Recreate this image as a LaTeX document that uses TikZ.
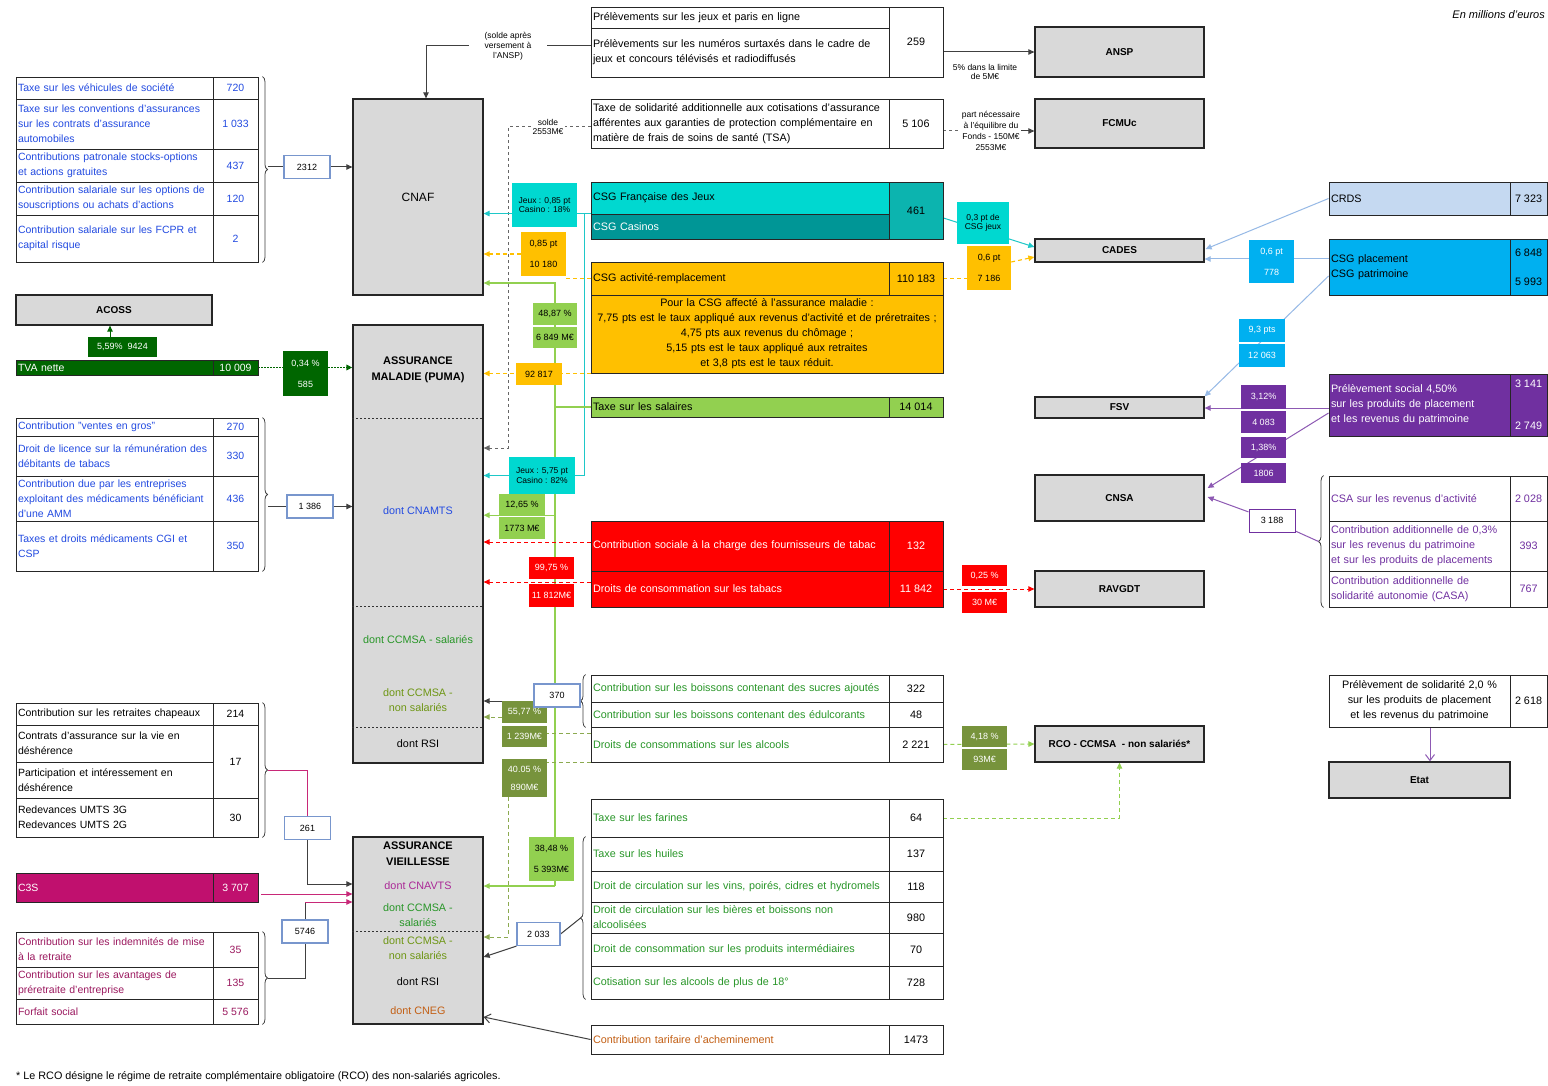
\documentclass[tikz,border=0pt]{standalone}
\usepackage{fontspec}
\setmainfont{Liberation Sans}
\usetikzlibrary{arrows.meta,decorations.pathreplacing,calc}
\pgfdeclarelayer{bg}
\pgfsetlayers{bg,main}
\newcommand\tblfont{\fontsize{10.8}{15}\selectfont}
\newcommand\lftfont{\fontsize{10.5}{15}\selectfont}
\newcommand\labfont{\fontsize{9}{10}\selectfont}
\newcommand\notefont{\fontsize{8.5}{9.8}\selectfont}
\definecolor{gbox}{HTML}{D9D9D9}
\definecolor{tblue}{RGB}{35,75,225}
\definecolor{tgreen}{RGB}{40,150,40}
\definecolor{tolive}{RGB}{110,150,20}
\definecolor{tpurp}{RGB}{112,48,160}
\definecolor{tmag}{RGB}{155,25,95}
\definecolor{tbrown}{RGB}{195,95,20}
\definecolor{tcnav}{RGB}{170,40,150}
\definecolor{cyA}{RGB}{0,216,208}
\definecolor{tealA}{RGB}{0,150,150}
\definecolor{tealB}{RGB}{12,180,175}
\definecolor{orng}{HTML}{FFC000}
\definecolor{lgr}{HTML}{92D050}
\definecolor{dgr}{RGB}{0,102,0}
\definecolor{olv}{HTML}{77933C}
\definecolor{rd}{RGB}{255,0,0}
\definecolor{crdsc}{HTML}{C5D9F1}
\definecolor{csgc}{HTML}{00B0F0}
\definecolor{purp}{HTML}{7030A0}
\definecolor{c3sc}{RGB}{192,16,110}
\definecolor{lnb}{RGB}{150,185,230}
\definecolor{ibc}{RGB}{120,150,205}
\definecolor{cyl}{RGB}{30,200,200}
\definecolor{magl}{RGB}{200,40,120}
\definecolor{olvl}{RGB}{140,170,80}
\begin{document}
\begin{tikzpicture}[x=1pt,y=-1pt,
 tbl/.style={draw=black!85, line width=0.9pt, inner xsep=2pt, inner ysep=0pt, font=\tblfont},
 colL/.style={tbl, font=\lftfont, text width=193pt, minimum width=197pt, align=left},
 colLN/.style={tbl, font=\lftfont, minimum width=45pt, align=center},
 colC/.style={tbl, text width=294pt, minimum width=298pt, align=left},
 colCN/.style={tbl, minimum width=54pt, align=center},
 colR/.style={tbl, text width=177pt, minimum width=181pt, align=left},
 colRN/.style={tbl, minimum width=37pt, align=center},
 gbx/.style={draw=black!85, line width=1.3pt, fill=gbox, align=center, font=\bfseries\fontsize{10}{12}\selectfont, inner sep=0pt},
 lab/.style={inner sep=0pt, align=center, font=\labfont},
 ib/.style={draw=ibc, line width=1.2pt, fill=white, minimum width=46pt, minimum height=23pt, inner sep=0pt, font=\labfont},
 note/.style={inner sep=1pt, align=center, font=\notefont},
 intxt/.style={inner sep=0pt, align=center, font=\tblfont},
 sepl/.style={line width=1pt, dash pattern=on 2pt off 2pt, draw=black!80},
 ar/.style={-{Triangle[length=6pt,width=5.5pt]}},
 brc/.style={draw=black!75, line width=0.8pt, decorate, decoration={brace, amplitude=5pt}},
 lnCy/.style={draw=cyl, line width=1pt},
 lnOd/.style={draw=orng, line width=1.1pt, dash pattern=on 4pt off 3pt},
 lnGl/.style={draw=lgr, line width=1.1pt},
 lnRd/.style={draw=rd, line width=1pt, dash pattern=on 4pt off 3pt},
 lnOl/.style={draw=olvl, line width=1pt, dash pattern=on 4pt off 3pt},
 lnLg/.style={draw=lgr, line width=1pt, dash pattern=on 4pt off 3pt},
 lnGd/.style={draw=black!60, line width=1pt, dash pattern=on 3pt off 3pt},
 lnDk/.style={draw=black!75, line width=1pt},
 lnLb/.style={draw=lnb, line width=1pt},
 lnPl/.style={draw=purp!80, line width=1pt},
 lnMg/.style={draw=magl, line width=1pt},
 lnTva/.style={draw=dgr, line width=1.5pt, dash pattern=on 1.5pt off 1.5pt},
]
\path[use as bounding box] (0,0) rectangle (1548,1086);

% ---------- left table 1
\node[colL,text=tblue,minimum height=22] (t1a) at (114.5,88) {Taxe sur les véhicules de société};
\node[colLN,text=tblue,minimum height=22] (t1an) at (235.5,88) {720};
\node[colL,text=tblue,minimum height=50] (t1b) at (114.5,124) {Taxe sur les conventions d'assurances\\sur les contrats d'assurance\\automobiles};
\node[colLN,text=tblue,minimum height=50] (t1bn) at (235.5,124) {1 033};
\node[colL,text=tblue,minimum height=33] (t1c) at (114.5,165.5) {Contributions patronale stocks-options\\et actions gratuites};
\node[colLN,text=tblue,minimum height=33] (t1cn) at (235.5,165.5) {437};
\node[colL,text=tblue,minimum height=33] (t1d) at (114.5,198.5) {Contribution salariale sur les options de\\souscriptions ou achats d'actions};
\node[colLN,text=tblue,minimum height=33] (t1dn) at (235.5,198.5) {120};
\node[colL,text=tblue,minimum height=47] (t1e) at (114.5,238.5) {Contribution salariale sur les FCPR et\\capital risque};
\node[colLN,text=tblue,minimum height=47] (t1en) at (235.5,238.5) {2};

% ---------- ACOSS / TVA
\node[gbx,minimum width=196,minimum height=30] (acoss) at (114,310) {ACOSS};
\node[colL,fill=dgr,text=white,minimum height=15] (tva) at (114.5,367.5) {TVA nette};
\node[colLN,fill=dgr,text=white,minimum height=15] (tvan) at (235.5,367.5) {10 009};
\node[lab,fill=dgr,text=white,minimum width=69,minimum height=20] (b559) at (122.5,347) {5,59\%\ \ 9424};
\node[lab,fill=dgr,text=white,minimum width=45,minimum height=45] (b034) at (305.5,373.5) {0,34 \%\\[11pt]585};

% ---------- left table 2
\node[colL,text=tblue,minimum height=18] (t2a) at (114.5,427) {Contribution "ventes en gros"};
\node[colLN,text=tblue,minimum height=18] (t2an) at (235.5,427) {270};
\node[colL,text=tblue,minimum height=40] (t2b) at (114.5,456) {Droit de licence sur la rémunération des\\débitants de tabacs};
\node[colLN,text=tblue,minimum height=40] (t2bn) at (235.5,456) {330};
\node[colL,text=tblue,minimum height=45] (t2c) at (114.5,498.5) {Contribution due par les entreprises\\exploitant des médicaments bénéficiant\\d'une AMM};
\node[colLN,text=tblue,minimum height=45] (t2cn) at (235.5,498.5) {436};
\node[colL,text=tblue,minimum height=50] (t2d) at (114.5,546) {Taxes et droits médicaments CGI et\\CSP};
\node[colLN,text=tblue,minimum height=50] (t2dn) at (235.5,546) {350};

% ---------- left table 3
\node[colL,minimum height=22] (t3a) at (114.5,714) {Contribution sur les retraites chapeaux};
\node[colLN,minimum height=22] (t3an) at (235.5,714) {214};
\node[colL,minimum height=37] (t3b) at (114.5,743.5) {Contrats d'assurance sur la vie en\\déshérence};
\node[colL,minimum height=36] (t3c) at (114.5,780) {Participation et intéressement en\\déshérence};
\node[colLN,minimum height=73] (t3bn) at (235.5,761.5) {17};
\node[colL,minimum height=39] (t3d) at (114.5,817.5) {Redevances UMTS 3G\\Redevances UMTS 2G};
\node[colLN,minimum height=39] (t3dn) at (235.5,817.5) {30};

% ---------- C3S
\node[colL,fill=c3sc,text=white,minimum height=29] (c3s) at (114.5,887.5) {C3S};
\node[colLN,fill=c3sc,text=white,minimum height=29] (c3sn) at (235.5,887.5) {3 707};

% ---------- left table 4
\node[colL,text=tmag,minimum height=35] (t4a) at (114.5,949.5) {Contribution sur les indemnités de mise\\à la retraite};
\node[colLN,text=tmag,minimum height=35] (t4an) at (235.5,949.5) {35};
\node[colL,text=tmag,minimum height=32] (t4b) at (114.5,983) {Contribution sur les avantages de\\préretraite d'entreprise};
\node[colLN,text=tmag,minimum height=32] (t4bn) at (235.5,983) {135};
\node[colL,text=tmag,minimum height=25] (t4c) at (114.5,1011.5) {Forfait social};
\node[colLN,text=tmag,minimum height=25] (t4cn) at (235.5,1011.5) {5 576};

% ---------- CNAF / AM / AV
\node[gbx,font=\fontsize{12}{14}\selectfont,minimum width=130,minimum height=196] (cnaf) at (418,197) {CNAF};
\node[gbx,minimum width=130,minimum height=438] (am) at (418,544) {};
\node[gbx,minimum width=130,minimum height=187] (av) at (418,930.5) {};
\node[intxt,font=\bfseries\fontsize{11}{16}\selectfont] (amt) at (418,370) {ASSURANCE\\MALADIE (PUMA)};
\node[intxt,text=tblue] (am1) at (418,511) {dont CNAMTS};
\node[intxt,text=tgreen] (am2) at (418,640) {dont CCMSA - salariés};
\node[intxt,text=tolive] (am3) at (418,700) {dont CCMSA -\\non salariés};
\node[intxt] (am4) at (418,744) {dont RSI};
\draw[sepl] (am.west |- 0,418) -- (am.east |- 0,418);
\draw[sepl] (am.west |- 0,606) -- (am.east |- 0,606);
\draw[sepl] (am.west |- 0,727) -- (am.east |- 0,727);
\node[intxt,font=\bfseries\fontsize{11}{16}\selectfont] (avt) at (418,854) {ASSURANCE\\VIEILLESSE};
\node[intxt,text=tcnav] (av1) at (418,886) {dont CNAVTS};
\node[intxt,text=tgreen] (av2) at (418,915.5) {dont CCMSA -\\salariés};
\node[intxt,text=tolive] (av3) at (418,948.5) {dont CCMSA -\\non salariés};
\node[intxt] (av4) at (418,982) {dont RSI};
\node[intxt,text=tbrown] (av5) at (418,1011) {dont CNEG};
\draw[sepl] (av.west |- 0,931) -- (av.east |- 0,931);

% ---------- center tables
\node[colC,minimum height=21] (j1) at (740,17.5) {Prélèvements sur les jeux et paris en ligne};
\node[colC,minimum height=49] (j2) at (740,52.5) {Prélèvements sur les numéros surtaxés dans le cadre de\\jeux et concours télévisés et radiodiffusés};
\node[colCN,minimum height=70] (jn) at (916,42) {259};
\node[colC,minimum height=49] (tsa) at (740,123.5) {Taxe de solidarité additionnelle aux cotisations d'assurance\\afférentes aux garanties de protection complémentaire en\\matière de frais de soins de santé (TSA)};
\node[colCN,minimum height=49] (tsan) at (916,123.5) {5 106};
\node[colC,fill=cyA,minimum height=32] (csg1) at (740,198) {CSG Française des Jeux};
\node[colC,fill=tealA,text=white,minimum height=25] (csg2) at (740,226.5) {CSG Casinos};
\node[colCN,fill=tealB,minimum height=57] (csgn) at (916,210.5) {461};
\node[colC,fill=orng,minimum height=33] (act) at (740,278.5) {CSG activité-remplacement};
\node[colCN,fill=orng,minimum height=33] (actn) at (916,278.5) {110 183};
\node[tbl,fill=orng,minimum width=352,text width=348,align=center,minimum height=78] (actd) at (767,334) {Pour la CSG affecté à l'assurance maladie :\\7,75 pts est le taux appliqué aux revenus d'activité et de préretraites ;\\4,75 pts aux revenus du chômage ;\\5,15 pts est le taux appliqué aux retraites\\et 3,8 pts est le taux réduit.};
\node[colC,fill=lgr,minimum height=20] (sal) at (740,407) {Taxe sur les salaires};
\node[colCN,fill=lgr,minimum height=20] (saln) at (916,407) {14 014};
\node[colC,fill=rd,text=white,minimum height=50] (tab1) at (740,546) {Contribution sociale à la charge des fournisseurs de tabac};
\node[colCN,fill=rd,text=white,minimum height=50] (tab1n) at (916,546) {132};
\node[colC,fill=rd,text=white,minimum height=36] (tab2) at (740,589) {Droits de consommation sur les tabacs};
\node[colCN,fill=rd,text=white,minimum height=36] (tab2n) at (916,589) {11 842};
\node[colC,text=tgreen,minimum height=27] (bo1) at (740,688.5) {Contribution sur les boissons contenant des sucres ajoutés};
\node[colCN,minimum height=27] (bo1n) at (916,688.5) {322};
\node[colC,text=tgreen,minimum height=25] (bo2) at (740,714.5) {Contribution sur les boissons contenant des édulcorants};
\node[colCN,minimum height=25] (bo2n) at (916,714.5) {48};
\node[colC,text=tgreen,minimum height=35] (bo3) at (740,744.5) {Droits de consommations sur les alcools};
\node[colCN,minimum height=35] (bo3n) at (916,744.5) {2 221};
\node[colC,text=tgreen,minimum height=38] (fa1) at (740,818) {Taxe sur les farines};
\node[colCN,minimum height=38] (fa1n) at (916,818) {64};
\node[colC,text=tgreen,minimum height=34] (fa2) at (740,854) {Taxe sur les huiles};
\node[colCN,minimum height=34] (fa2n) at (916,854) {137};
\node[colC,text=tgreen,minimum height=31] (fa3) at (740,886.5) {Droit de circulation sur les vins, poirés, cidres et hydromels};
\node[colCN,minimum height=31] (fa3n) at (916,886.5) {118};
\node[colC,text=tgreen,minimum height=31] (fa4) at (740,917.5) {Droit de circulation sur les bières et boissons non\\alcoolisées};
\node[colCN,minimum height=31] (fa4n) at (916,917.5) {980};
\node[colC,text=tgreen,minimum height=33] (fa5) at (740,949.5) {Droit de consommation sur les produits intermédiaires};
\node[colCN,minimum height=33] (fa5n) at (916,949.5) {70};
\node[colC,text=tgreen,minimum height=33] (fa6) at (740,982.5) {Cotisation sur les alcools de plus de 18°};
\node[colCN,minimum height=33] (fa6n) at (916,982.5) {728};
\node[colC,text=tbrown,minimum height=29] (cta) at (740,1039.5) {Contribution tarifaire d'acheminement};
\node[colCN,minimum height=29] (ctan) at (916,1039.5) {1473};

% ---------- gray boxes right-center
\node[gbx,minimum width=169,minimum height=50] (ansp) at (1119.5,52) {ANSP};
\node[gbx,minimum width=169,minimum height=49] (fcmuc) at (1119.5,123.5) {FCMUc};
\node[gbx,minimum width=169,minimum height=23] (cades) at (1119.5,250.5) {CADES};
\node[gbx,minimum width=169,minimum height=21] (fsv) at (1119.5,407.5) {FSV};
\node[gbx,minimum width=169,minimum height=46] (cnsa) at (1119.5,498) {CNSA};
\node[gbx,minimum width=169,minimum height=36] (ravgdt) at (1119.5,589) {RAVGDT};
\node[gbx,minimum width=169,minimum height=36] (rco) at (1119.5,744) {RCO - CCMSA\ \ - non salariés*};

% ---------- right tables
\node[colR,fill=crdsc,minimum height=33] (crds) at (1419.5,198.5) {CRDS};
\node[colRN,fill=crdsc,minimum height=33] (crdsn) at (1528.5,198.5) {7 323};
\node[colR,fill=csgc,minimum height=56] (csgp) at (1419.5,267) {CSG placement\\CSG patrimoine};
\node[colRN,fill=csgc,minimum height=56] (csgpn) at (1528.5,267) {6 848\\[14pt]5 993};
\node[colR,fill=purp,text=white,minimum height=62] (ps) at (1419.5,405) {Prélèvement social 4,50\%\\sur les produits de placement\\et les revenus du patrimoine};
\node[colRN,fill=purp,text=white,minimum height=62] (psn) at (1528.5,405) {3 141\\[27pt]2 749};
\node[colR,text=tpurp,minimum height=45] (csa1) at (1419.5,498.5) {CSA sur les revenus d'activité};
\node[colRN,text=tpurp,minimum height=45] (csa1n) at (1528.5,498.5) {2 028};
\node[colR,text=tpurp,minimum height=50] (csa2) at (1419.5,546) {Contribution additionnelle de 0,3\%\\sur les revenus du patrimoine\\et sur les produits de placements};
\node[colRN,text=tpurp,minimum height=50] (csa2n) at (1528.5,546) {393};
\node[colR,text=tpurp,minimum height=36] (csa3) at (1419.5,589) {Contribution additionnelle de\\solidarité autonomie (CASA)};
\node[colRN,text=tpurp,minimum height=36] (csa3n) at (1528.5,589) {767};
\node[colR,align=center,minimum height=52] (sol) at (1419.5,701) {Prélèvement de solidarité 2,0 \%\\sur les produits de placement\\et les revenus du patrimoine};
\node[colRN,minimum height=52] (soln) at (1528.5,701) {2 618};
\node[gbx,minimum width=181,minimum height=36] (etat) at (1419.5,780) {Etat};

% ---------- label boxes
\node[lab,fill=cyA,minimum width=65,minimum height=44,font=\fontsize{8.5}{9.5}\selectfont] (cj1) at (544.5,205) {Jeux : 0,85 pt\\Casino : 18\%};
\node[lab,fill=cyA,minimum width=66,minimum height=37,font=\fontsize{8.5}{9.5}\selectfont] (cj2) at (542,475.5) {Jeux : 5,75 pt\\Casino : 82\%};
\node[lab,fill=cyA,minimum width=52,minimum height=42,font=\fontsize{8.5}{9.5}\selectfont] (cj3) at (983,223) {0,3 pt de\\CSG jeux};
\node[lab,fill=orng,minimum width=45,minimum height=44] (o1) at (543.5,254) {0,85 pt\\[11pt]10 180};
\node[lab,fill=orng,minimum width=46,minimum height=22] (o2) at (539,374) {92 817};
\node[lab,fill=orng,minimum width=44,minimum height=44] (o3) at (989,268) {0,6 pt\\[11pt]7 186};
\node[lab,fill=lgr,minimum width=44,minimum height=22] (g1a) at (555,314) {48,87 \%};
\node[lab,fill=lgr,minimum width=44,minimum height=21] (g1b) at (555,337.5) {6 849 M€};
\node[lab,fill=lgr,minimum width=46,minimum height=21] (g2a) at (522,504.5) {12,65 \%};
\node[lab,fill=lgr,minimum width=46,minimum height=22] (g2b) at (522,528) {1773 M€};
\node[lab,fill=lgr,minimum width=45,minimum height=44] (g3) at (551.5,859) {38,48 \%\\[11pt]5 393M€};
\node[lab,fill=rd,text=white,minimum width=45,minimum height=22] (r1a) at (551.5,568) {99,75 \%};
\node[lab,fill=rd,text=white,minimum width=45,minimum height=23] (r1b) at (551.5,595.5) {11 812M€};
\node[lab,fill=rd,text=white,minimum width=45,minimum height=21] (r2a) at (984.5,575.5) {0,25 \%};
\node[lab,fill=rd,text=white,minimum width=45,minimum height=21] (r2b) at (984.5,602.5) {30 M€};
\node[lab,fill=olv,text=white,minimum width=45,minimum height=22] (ol1a) at (524.5,712) {55,77 \%};
\node[lab,fill=olv,text=white,minimum width=45,minimum height=21] (ol1b) at (524.5,736.5) {1 239M€};
\node[lab,fill=olv,text=white,minimum width=45,minimum height=38] (ol2) at (524.5,778) {40.05 \%\\[8pt]890M€};
\node[lab,fill=olv,text=white,minimum width=45,minimum height=21] (ol3a) at (984.5,736.5) {4,18 \%};
\node[lab,fill=olv,text=white,minimum width=45,minimum height=21] (ol3b) at (984.5,759.5) {93M€};
\node[lab,fill=csgc,text=white,minimum width=45,minimum height=43] (bl1) at (1271.5,261.5) {0,6 pt\\[11pt]778};
\node[lab,fill=csgc,text=white,minimum width=46,minimum height=23] (bl2a) at (1262,330.5) {9,3 pts};
\node[lab,fill=csgc,text=white,minimum width=46,minimum height=23] (bl2b) at (1262,355.5) {12 063};
\node[lab,fill=purp,text=white,minimum width=45,minimum height=24] (p1a) at (1263.5,397) {3,12\%};
\node[lab,fill=purp,text=white,minimum width=45,minimum height=22] (p1b) at (1263.5,422) {4 083};
\node[lab,fill=purp,text=white,minimum width=45,minimum height=21] (p2a) at (1263.5,447.5) {1,38\%};
\node[lab,fill=purp,text=white,minimum width=45,minimum height=20] (p2b) at (1263.5,473) {1806};

% ---------- info boxes
\node[ib] (i2312) at (307,167) {2312};
\node[ib] (i1386) at (310,506.5) {1 386};
\node[ib] (i261) at (307.5,828) {261};
\node[ib] (i5746) at (305,931.5) {5746};
\node[ib] (i370) at (557,695.5) {370};
\node[ib,minimum width=43] (i2033) at (538.5,934) {2 033};
\node[ib,draw=purp,line width=1pt] (i3188) at (1272,520.5) {3 188};

% ---------- notes
\node[note,minimum width=78] (soldeansp) at (508,46) {(solde après\\versement à\\l'ANSP)};
\node[note] (lim) at (985,72) {5\% dans la limite\\de 5M€};
\node[note,fill=white,font=\fontsize{8.5}{11}\selectfont] (part) at (991,131) {part nécessaire\\à l'équilibre du\\Fonds - 150M€\\2553M€};
\node[note,fill=white,minimum width=34] (solde) at (548,127) {solde\\2553M€};
\node[anchor=east,inner sep=0pt,font=\itshape\fontsize{11}{12}\selectfont] (unit) at (1545,15) {En millions d'euros};
\node[anchor=west,inner sep=0pt,font=\fontsize{10.8}{12}\selectfont] (foot) at (16,1077) {* Le RCO désigne le régime de retraite complémentaire obligatoire (RCO) des non-salariés agricoles.};

% ---------- brace tips and bends
\coordinate (b1) at ($(t1an.north east)!0.5!(t1en.south east)+(10,0)$);
\coordinate (b2) at ($(t2an.north east)!0.5!(t2dn.south east)+(10,0)$);
\coordinate (b3) at ($(t3an.north east)!0.5!(t3dn.south east)+(10,0)$);
\coordinate (b4) at ($(t4an.north east)!0.5!(t4cn.south east)+(10,0)$);
\coordinate (b5) at ($(bo1.north west)!0.5!(bo2.south west)+(-10,0)$);
\coordinate (b6) at ($(fa2.north west)!0.5!(fa6.south west)+(-10,0)$);
\coordinate (b7) at ($(csa1.north west)!0.5!(csa3.south west)+(-10,0)$);
\coordinate (k1) at (508,448);
\coordinate (k2) at (584,214);
\coordinate (k3) at (584,475.5);
\coordinate (gt) at (555,283);
\coordinate (gbt) at (555,886);
\coordinate (k4) at (508,937);

\begin{pgfonlayer}{bg}
\fill[white] (0,0) rectangle (1548,1086);
% braces
\draw[brc] ([xshift=4pt]t1an.north east) -- ([xshift=4pt]t1en.south east);
\draw[brc] ([xshift=4pt]t2an.north east) -- ([xshift=4pt]t2dn.south east);
\draw[brc] ([xshift=4pt]t3an.north east) -- ([xshift=4pt]t3dn.south east);
\draw[brc] ([xshift=4pt]t4an.north east) -- ([xshift=4pt]t4cn.south east);
\draw[brc] ([xshift=-5pt]bo2.south west) -- ([xshift=-5pt]bo1.north west);
\draw[brc] ([xshift=-5pt]fa6.south west) -- ([xshift=-5pt]fa2.north west);
\draw[brc] ([xshift=-5pt]csa3.south west) -- ([xshift=-5pt]csa1.north west);
% left side
\draw[lnDk] (i2312.west -| b1) -- (i2312.west);
\draw[lnDk,ar] (i2312.east) -- (i2312.east -| cnaf.west);
\draw[lnDk] (i1386.west -| b2) -- (i1386.west);
\draw[lnDk,ar] (i1386.east) -- (i1386.east -| am.west);
\draw[lnMg] (b3) -| (i261.north);
\draw[lnDk,ar] (i261.south) |- (av.west |- 0,884);
\draw[lnMg,ar] ($(c3sn.east)+(3,6.5)$) -- (av.west |- 0,894);
\draw[lnDk] (b4) -| (i5746.south);
\draw[lnDk] (i5746.north) -- (i5746.north |- 0,902);
\draw[lnMg,ar] (i5746.north |- 0,902) -- (av.west |- 0,902);
\draw[draw=dgr,line width=1pt,ar] ([xshift=-12.5pt]b559.north) -- ([xshift=-12.5pt]b559.north |- acoss.south);
\draw[lnTva] (tvan.east) -- (tvan.east -| b034.west);
\draw[lnTva,ar] (b034.east |- tvan.east) -- (tvan.east -| am.west);
% top
\draw[lnDk] (j2.west |- soldeansp) -- (soldeansp.east);
\draw[lnDk,ar] (soldeansp.west) -| ([xshift=8pt]cnaf.north);
\draw[lnDk,ar] (jn.east |- ansp.west) -- (ansp.west);
\draw[lnGd] (tsa.west |- solde) -- (solde.east);
\draw[lnGd,ar] (solde.west) -- (solde.west -| k1) -- (k1) -- (k1 -| am.east);
\draw[lnGd] (tsan.east |- part) -- (part.west);
\draw[lnDk,ar] (part.east) -- (part.east -| fcmuc.west);
% cyan
\draw[lnCy,ar] (csg2.north west) -- (csg2.north west -| cnaf.east);
\draw[lnCy,ar] (k2) -- (k3) -- (k3 -| am.east);
\draw[lnCy,ar] ($(csgn.east)+(0,7.5)$) -- ($(cades.west)+(0,-3.5)$);
% orange
\draw[lnOd] (act.west) -- (act.west -| o1.east);
\draw[lnOd,ar] (o1.west) -- (o1.west -| cnaf.east);
\draw[lnOd,ar] (actd.south west) -- (actd.south west -| am.east);
\draw[lnOd] (actn.east) -- (actn.east -| o3.west);
\draw[lnOd,ar] ($(o3.east)+(0,-6)$) -- ($(cades.west)+(0,6.5)$);
% green
\draw[lnGl,ar] (gbt) -- (gt) -- (gt -| cnaf.east);
\draw[lnGl,ar] (gbt) -- (gbt -| av.east);
\draw[lnGl] (sal.west) -- (sal.west -| gt);
\draw[lnGl,ar] (gt |- g2a.south) -- (g2a.south -| am.east);
% red
\draw[lnRd,ar] ($(tab1.west)+(0,-4)$) -- ($(tab1.west -| am.east)+(0,-4)$);
\draw[lnRd,ar] ($(tab2.west)+(0,-7)$) -- ($(tab2.west -| am.east)+(0,-7)$);
\draw[lnRd,ar] (tab2n.east) -- (ravgdt.west);
% sugar / alcohol
\draw[lnDk] (b5) -- (b5 -| i370.east);
\draw[lnDk,ar] ($(i370.west)+(0,5.5)$) -- ($(i370.west -| am.east)+(0,5.5)$);
\draw[lnOl] ($(bo3.west)+(0,-11.5)$) -- ($(bo3.west -| ol1b.east)+(0,-11.5)$);
\draw[lnOl,ar] ($(ol1a.west)+(0,5)$) -- ($(ol1a.west -| am.east)+(0,5)$);
\draw[lnOl] (bo3.south west) -- (bo3.south west -| ol2.east);
\draw[lnOl,ar] (ol2.south -| k4) -- (k4) -- (k4 -| av.east);
\draw[lnLg,ar] (bo3n.east) -- (rco.west);
\draw[lnLg,ar] (fa1n.east) -| (rco.south);
\draw[lnDk] (b6) -- (i2033.east);
\draw[lnDk,ar] (i2033.south west) -- (av.east |- 0,957);
\draw[lnDk,-{Straight Barb[length=6pt,width=9pt]}] (cta.west) -- (av.east |- 0,1017);
% right
\draw[lnLb,ar] (crds.west) -- ($(cades.east)+(1,-1.5)$);
\draw[lnLb,ar] (csgp.west |- 0,259) -- (cades.east |- 0,259);
\draw[lnLb,ar] (csgp.west |- 0,276) -- (fsv.north east);
\draw[lnPl,ar] (ps.west |- 0,408) -- (fsv.east |- 0,408);
\draw[lnPl,ar] (ps.west |- 0,413) -- ($(cnsa.east)+(3,-10)$);
\draw[lnPl] (b7) -- (i3188);
\draw[lnPl,ar] (i3188) -- ($(cnsa.east)+(3,-1)$);
\draw[lnPl,-{Straight Barb[length=6pt,width=9pt]}] ($(sol.south)+(10.5,0)$) -- ($(etat.north)+(10.5,0)$);
\end{pgfonlayer}
\end{tikzpicture}
\end{document}
